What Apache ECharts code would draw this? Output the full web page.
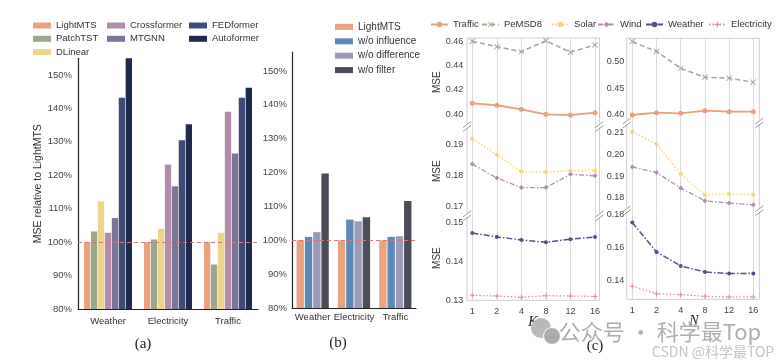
<!DOCTYPE html>
<html><head><meta charset="utf-8">
<script src="https://cdn.jsdelivr.net/npm/echarts@6/dist/echarts.min.js"></script>
<style>html,body{margin:0;padding:0;background:#fff}#c{width:780px;height:364px}</style>
</head><body><div id="c"></div>
<script>
// ---------- data ----------
const categories = ['Weather', 'Electricity', 'Traffic'];
// (a) MSE relative to LightMTS (%)
const lightMTS    = [100, 100, 100];
const patchTST    = [103.2, 100.8, 93.3];
const dLinear     = [112.2, 104.0, 102.8];
const crossformer = [102.8, 123.2, 139.0];
const mtgnn       = [107.2, 116.7, 126.5];
const fedformer   = [143.2, 130.5, 143.2];
const autoformer  = [155.0, 135.3, 146.2];
// (b) ablation (%)
const ablLightMTS  = [100, 100, 100];
const woInfluence  = [101.0, 106.1, 101.0];
const woDifference = [102.4, 105.6, 101.2];
const woFilter     = [119.7, 106.8, 111.6];
// (c) sensitivity, MSE
const kValues = ['1', '2', '4', '8', '12', '16'];
const nValues = ['1', '2', '4', '8', '12', '16'];
const kTraffic     = [0.4090, 0.4074, 0.4041, 0.4000, 0.3994, 0.4013];
const kPeMSD8      = [0.4597, 0.4554, 0.4513, 0.4603, 0.4508, 0.4568];
const kSolar       = [0.1920, 0.1868, 0.1814, 0.1812, 0.1817, 0.1817];
const kWind        = [0.1838, 0.1793, 0.1762, 0.1762, 0.1805, 0.1800];
const kWeather     = [0.1473, 0.1463, 0.1455, 0.1449, 0.1457, 0.1463];
const kElectricity = [0.1313, 0.1311, 0.1308, 0.1312, 0.1311, 0.1310];
const nTraffic     = [0.4000, 0.4044, 0.4031, 0.4080, 0.4062, 0.4062];
const nPeMSD8      = [0.5375, 0.5190, 0.4875, 0.4706, 0.4690, 0.4613];
const nSolar       = [0.2105, 0.2048, 0.1910, 0.1812, 0.1817, 0.1814];
const nWind        = [0.1942, 0.1916, 0.1845, 0.1786, 0.1775, 0.1767];
const nWeather     = [0.1750, 0.1574, 0.1490, 0.1454, 0.1444, 0.1444];
const nElectricity = [0.1368, 0.1324, 0.1318, 0.1308, 0.1304, 0.1304];

// ---------- styles ----------
const SN = "'Liberation Sans',Arial,sans-serif";
const SERIF = "'Liberation Serif','DejaVu Serif',serif";
const XPATH = 'path://M0,1L1,0L5,4L9,0L10,1L6,5L10,9L9,10L5,6L1,10L0,9L4,5Z';
const PLUS = 'path://M4,0H6V4H10V6H6V10H4V6H0V4H4Z';
const lineCfg = {
  Traffic:     {color: '#eba07c', type: 'solid', width: 1.8, symbol: 'circle', size: 5},
  PeMSD8:      {color: '#a3a793', type: [5, 3], width: 1.5, symbol: XPATH, size: 6},
  Solar:       {color: '#f5d873', type: [1.5, 2], width: 1.5, symbol: 'circle', size: 4},
  Wind:        {color: '#b28db2', type: [5, 2, 1.5, 2], width: 1.3, symbol: 'diamond', size: 5},
  Weather:     {color: '#50538a', type: [6, 2, 1.5, 2], width: 1.5, symbol: 'circle', size: 4},
  Electricity: {color: '#df8aa8', type: [1.5, 2], width: 1.3, symbol: PLUS, size: 5}
};

const chart = echarts.init(document.getElementById('c'));

function isMult(v, step) { return Math.abs(v / step - Math.round(v / step)) < 1e-4; }

function pctY(gi, max) {
  return {
    gridIndex: gi, type: 'value', min: 80, max: max, interval: 10,
    axisLine: {show: true, lineStyle: {color: '#222', width: 1.2}},
    axisTick: {show: false}, splitLine: {show: false},
    axisLabel: {margin: gi === 0 ? 6 : 5, fontSize: 9.5, color: '#444', fontFamily: SN,
      formatter: v => isMult(v, 10) ? Math.round(v) + '%' : ''}
  };
}
function catX(gi, margin) {
  return {
    gridIndex: gi, type: 'category', data: categories,
    axisLine: {show: true, lineStyle: {color: '#222', width: 1.2}},
    axisTick: {show: false},
    axisLabel: {margin: margin, fontSize: 9.5, color: '#333', fontFamily: SN, interval: 0}
  };
}
function secX(gi, data, bottom) {
  return {
    gridIndex: gi, type: 'category', data: data, boundaryGap: false,
    axisLine: {show: false}, axisTick: {show: false},
    axisLabel: {show: bottom, margin: 7, fontSize: 9, color: '#444', fontFamily: SN},
    splitLine: {show: true, lineStyle: {color: '#dadada', width: 1}}
  };
}
function secY(gi, min, max, step, name, margin) {
  return {
    gridIndex: gi, type: 'value', min: min, max: max, interval: 0.001,
    axisLine: {show: false}, axisTick: {show: false}, splitLine: {show: false},
    axisLabel: {margin: margin, fontSize: 9, color: '#444', fontFamily: SN,
      formatter: v => isMult(v, step) ? v.toFixed(2) : ''},
    name: name, nameLocation: 'middle', nameGap: 30,
    nameTextStyle: {fontSize: 10, color: '#333', fontFamily: SN}
  };
}
function hidAx(gi) { return {gridIndex: gi, type: 'value', show: false}; }

const grids = [
  {left: 78, top: 58.3, width: 180, height: 250.7},
  {left: 292, top: 52, width: 124, height: 256},
  {left: 467, top: 38, width: 132.5, height: 262.3, show: true, borderColor: '#cfcfcf', borderWidth: 1, backgroundColor: 'rgba(0,0,0,0)'},
  {left: 472.3, top: 38, width: 122.7, height: 88.5},
  {left: 472.3, top: 126.5, width: 122.7, height: 89.4},
  {left: 472.3, top: 215.9, width: 122.7, height: 84.4},
  {left: 626.7, top: 38.3, width: 132.6, height: 261, show: true, borderColor: '#cfcfcf', borderWidth: 1, backgroundColor: 'rgba(0,0,0,0)'},
  {left: 632.3, top: 38.3, width: 121, height: 84.7},
  {left: 632.3, top: 123, width: 121, height: 87.7},
  {left: 632.3, top: 210.7, width: 121, height: 88.6}
];

const xAxes = [
  catX(0, 7), catX(1, 4), hidAx(2),
  secX(3, kValues, false), secX(4, kValues, false), secX(5, kValues, true),
  hidAx(6),
  secX(7, nValues, false), secX(8, nValues, false), secX(9, nValues, true)
];
const yAxes = [
  Object.assign(pctY(0, 155), {name: 'MSE relative to LightMTS', nameLocation: 'middle', nameGap: 23,
    nameTextStyle: {fontSize: 10.5, color: '#333', fontFamily: SN}}),
  pctY(1, 155.6), hidAx(2),
  secY(3, 0.39, 0.4625, 0.02, 'MSE', 9),
  secY(4, 0.167, 0.196, 0.01, 'MSE', 9),
  secY(5, 0.13, 0.1517, 0.01, 'MSE', 9),
  hidAx(6),
  secY(7, 0.385, 0.5436, 0.05, '', 8),
  secY(8, 0.174, 0.2145, 0.01, '', 8),
  secY(9, 0.129, 0.1821, 0.02, '', 8)
];

const refLine = {
  silent: true, symbol: ['none', 'none'], label: {show: false},
  lineStyle: {color: '#d9737c', type: [4, 3], width: 1.2},
  data: [{yAxis: 100}]
};

function bar(name, data, color, gi, gap, catGap, extra) {
  return Object.assign({
    type: 'bar', name: name, data: data, xAxisIndex: gi, yAxisIndex: gi,
    barGap: gap, barCategoryGap: catGap, itemStyle: {color: color}
  }, extra || {});
}

const series = [
  bar('LightMTS', lightMTS, '#e9a47f', 0, '10%', '20%', {markLine: refLine}),
  bar('PatchTST', patchTST, '#9aa78a', 0, '10%', '20%'),
  bar('DLinear', dLinear, '#ecd58b', 0, '10%', '20%'),
  bar('Crossformer', crossformer, '#b48ba9', 0, '10%', '20%'),
  bar('MTGNN', mtgnn, '#7c7599', 0, '10%', '20%'),
  bar('FEDformer', fedformer, '#3f4b78', 0, '10%', '20%'),
  bar('Autoformer', autoformer, '#1e2b4f', 0, '10%', '20%'),
  bar('LightMTS', ablLightMTS, '#e9a47f', 1, '12%', '22%', {markLine: refLine}),
  bar('w/o influence', woInfluence, '#5d89b8', 1, '12%', '22%'),
  bar('w/o difference', woDifference, '#9b9bb9', 1, '12%', '22%'),
  bar('w/o filter', woFilter, '#4b4d58', 1, '12%', '22%')
];

function line(name, data, gi) {
  const c = lineCfg[name];
  return {
    type: 'line', name: name, data: data, xAxisIndex: gi, yAxisIndex: gi,
    symbol: c.symbol, symbolSize: c.size, showSymbol: true,
    lineStyle: {color: c.color, type: c.type, width: c.width},
    itemStyle: {color: c.color}, z: 3
  };
}
series.push(
  line('Traffic', kTraffic, 3), line('PeMSD8', kPeMSD8, 3),
  line('Solar', kSolar, 4), line('Wind', kWind, 4),
  line('Weather', kWeather, 5), line('Electricity', kElectricity, 5),
  line('Traffic', nTraffic, 7), line('PeMSD8', nPeMSD8, 7),
  line('Solar', nSolar, 8), line('Wind', nWind, 8),
  line('Weather', nWeather, 9), line('Electricity', nElectricity, 9)
);

const legA = {orient: 'vertical', icon: 'rect', itemWidth: 18, itemHeight: 6, itemGap: 0.3, padding: 0,
  textStyle: {fontSize: 9.5, color: '#333', fontFamily: SN, lineHeight: 13}};
const legC = {itemWidth: 17, itemHeight: 7, top: 19.5, padding: 0,
  textStyle: {fontSize: 9.5, color: '#333', fontFamily: SN, lineHeight: 10}};
const legends = [
  Object.assign({}, legA, {left: 33, top: 19, data: ['LightMTS', 'PatchTST', 'DLinear']}),
  Object.assign({}, legA, {left: 107, top: 19, data: ['Crossformer', 'MTGNN']}),
  Object.assign({}, legA, {left: 189, top: 19, data: ['FEDformer', 'Autoformer']}),
  Object.assign({}, legA, {left: 335, top: 20.4, itemGap: 1.4, textStyle: {fontSize: 10, color: '#333', fontFamily: SN, lineHeight: 13}, data: ['LightMTS', 'w/o influence', 'w/o difference', 'w/o filter']}),
  Object.assign({}, legC, {left: 430, data: ['Traffic']}),
  Object.assign({}, legC, {left: 481, data: ['PeMSD8']}),
  Object.assign({}, legC, {left: 551, data: ['Solar']}),
  Object.assign({}, legC, {left: 597, data: ['Wind']}),
  Object.assign({}, legC, {left: 645, data: ['Weather']}),
  Object.assign({}, legC, {left: 708, data: ['Electricity']})
];

// decorations: axis break marks, captions, watermark
const graphics = [];
const breaks = [[467, 126.5], [599.5, 126.5], [467, 215.9], [599.5, 215.9],
                [626.7, 123], [759.3, 123], [626.7, 210.7], [759.3, 210.7]];
breaks.forEach(([x, y]) => {
  graphics.push({type: 'rect', z: 100, shape: {x: x - 1.5, y: y - 3, width: 3, height: 4}, style: {fill: '#fff'}});
  graphics.push({type: 'line', z: 101, shape: {x1: x - 4, y1: y + 1, x2: x + 4, y2: y - 5}, style: {stroke: '#999', lineWidth: 1}});
  graphics.push({type: 'line', z: 101, shape: {x1: x - 4, y1: y + 5, x2: x + 4, y2: y - 1}, style: {stroke: '#999', lineWidth: 1}});
});
function txt(t, x, y, font, fill, z) {
  return {type: 'text', z: z || 100, x: x, y: y,
    style: {text: t, font: font, fill: fill, align: 'center', verticalAlign: 'middle',
      textAlign: 'center', textVerticalAlign: 'middle'}};
}
graphics.push(txt('(a)', 143, 344, '15px ' + SERIF, '#222'));
graphics.push(txt('(b)', 338, 343, '15px ' + SERIF, '#222'));
graphics.push(txt('(c)', 595, 346, '15px ' + SERIF, '#222'));
graphics.push(txt('K', 533, 322, 'italic 14px ' + SERIF, '#222'));
graphics.push(txt('N', 694, 321, 'italic 14px ' + SERIF, '#222'));
graphics.push({type: 'circle', z: 110, shape: {cx: 541, cy: 328, r: 10}, style: {fill: '#b9b9b9'}});
graphics.push({type: 'circle', z: 111, shape: {cx: 552, cy: 336, r: 8.5}, style: {fill: '#adadad', stroke: '#fff', lineWidth: 1}});
graphics.push(txt('公众号 · 科学最Top', 660, 332, "22px 'Noto Sans CJK SC',sans-serif", 'rgba(160,160,160,0.85)', 110));
graphics.push(txt('CSDN @科学最TOP', 713, 352, "14px 'Noto Sans CJK SC',sans-serif", 'rgba(190,190,190,0.9)', 110));

chart.setOption({
  animation: false,
  backgroundColor: '#fff',
  grid: grids,
  xAxis: xAxes,
  yAxis: yAxes,
  legend: legends,
  series: series,
  graphic: graphics
});
</script>
</body></html>
